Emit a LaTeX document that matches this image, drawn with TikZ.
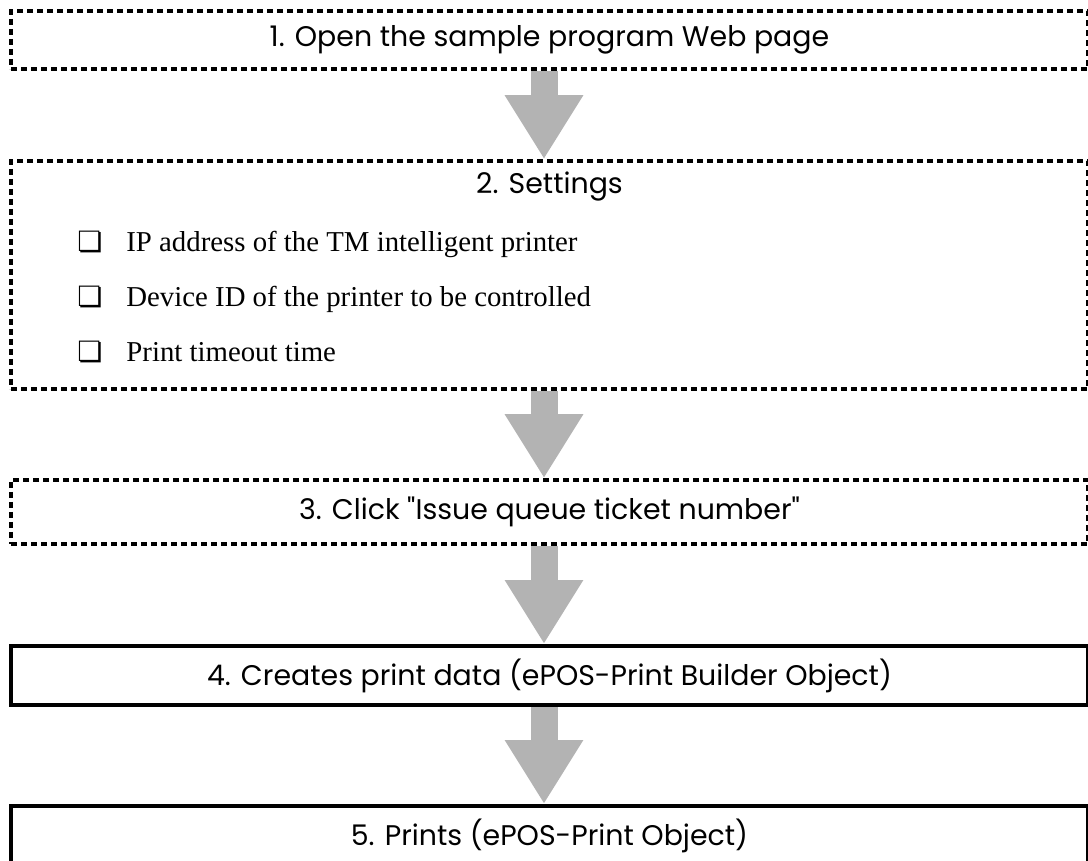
\documentclass[tikz,border=0pt]{standalone}
\usepackage{fontspec}
\newfontfamily\gothic{Poppins}
\newfontfamily\dingfont{DejaVu Sans}
\newfontfamily\itemfont{Liberation Serif}
\usetikzlibrary{arrows.meta}
\definecolor{arrowgray}{RGB}{179,179,179}
\tikzset{
  stepdash/.style={draw, line width=1.8pt, dash pattern=on 3pt off 2pt,
    minimum width=538.5pt, inner sep=0pt, font=\gothic\fontsize{14.2}{16}\selectfont},
  stepsolid/.style={draw, line width=2pt,
    minimum width=538.5pt, inner sep=0pt, font=\gothic\fontsize{14.2}{16}\selectfont},
  flowarrow/.style={draw=arrowgray, line width=13.5pt,
    -{Triangle[width=37pt,length=32pt]}},
  checkbox/.style={anchor=base west, inner sep=0pt, font=\dingfont\fontsize{14}{16}\selectfont},
  itemtext/.style={anchor=base west, inner sep=0pt, font=\itemfont\fontsize{14.4}{17}\selectfont}
}
\begin{document}
\begin{tikzpicture}[x=0.5pt, y=-0.5pt]
\path[use as bounding box, clip] (0,0) rectangle (1088,861);
% steps
  \node[stepdash, minimum height=29pt] (open) at (549.5,40) {1. Open the sample program Web page};
  \node[stepdash, minimum height=114pt] (settings) at (549.5,275) {};
  \node[stepdash, minimum height=32pt] (click) at (549.5,512) {3. Click "Issue queue ticket number"};
  \node[stepsolid, minimum height=29.5pt] (build) at (549.5,675.5) {4. Creates print data (ePOS-Print Builder Object)};
  \node[stepsolid, minimum height=30pt] (prints) at (549.5,836) {5. Prints (ePOS-Print Object)};
% settings contents
  \node[font=\gothic\fontsize{14.2}{16}\selectfont] (settitle) at (549.5,187) {2. Settings};
  \node[checkbox] (box1) at (77,252) {❏};
  \node[itemtext] (ip) at (126,252) {IP address of the TM intelligent printer};
  \node[checkbox] (box2) at (77,307) {❏};
  \node[itemtext] (devid) at (126,307) {Device ID of the printer to be controlled};
  \node[checkbox] (box3) at (77,362) {❏};
  \node[itemtext] (timeout) at (126,362) {Print timeout time};
% arrows
  \coordinate (axis) at (544,0);
  \draw[flowarrow] (open.south -| axis) -- (settings.north -| axis);
  \draw[flowarrow] (settings.south -| axis) -- (click.north -| axis);
  \draw[flowarrow] (click.south -| axis) -- (build.north -| axis);
  \draw[flowarrow] (build.south -| axis) -- (prints.north -| axis);
\end{tikzpicture}
\end{document}
